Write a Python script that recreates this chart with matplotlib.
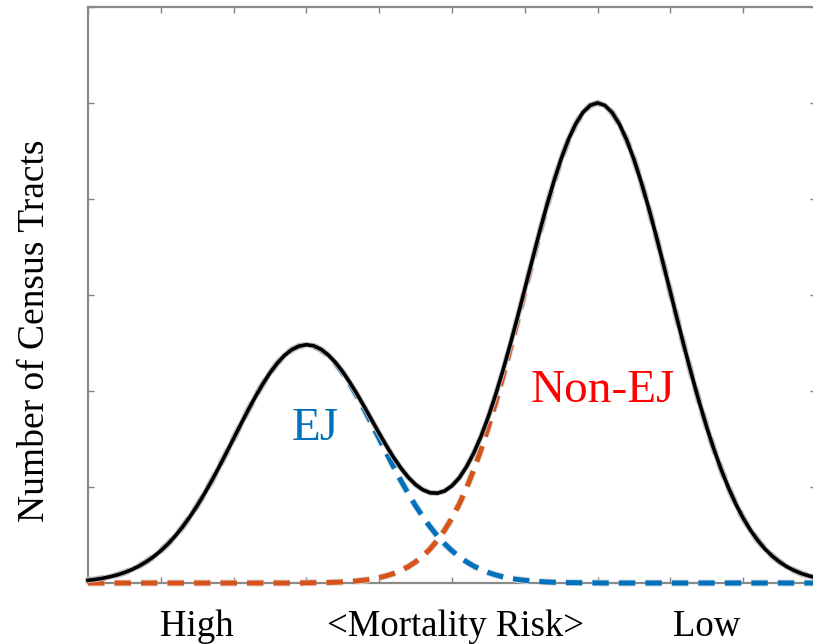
import numpy as np
import matplotlib
matplotlib.use('Agg')
import matplotlib.pyplot as plt
import matplotlib.patheffects as pe

# values, x step 0.1 on a 0..10 axis
x_vals = [round(0.1 * i, 1) for i in range(101)]

ej_vals = [0.028, 0.037, 0.049, 0.065, 0.084, 0.109, 0.139, 0.176, 0.221, 0.273,
           0.336, 0.408, 0.491, 0.585, 0.690, 0.805, 0.931, 1.065, 1.207, 1.354,
           1.504, 1.654, 1.801, 1.941, 2.071, 2.189, 2.289, 2.371, 2.431, 2.468,
           2.480,
           2.468, 2.431, 2.371, 2.289, 2.189, 2.071, 1.941, 1.801, 1.654, 1.504,
           1.354, 1.207, 1.065, 0.931, 0.805, 0.690, 0.585, 0.491, 0.408, 0.336,
           0.273, 0.221, 0.176, 0.139, 0.109, 0.084, 0.065, 0.049, 0.037, 0.028,
           0.020, 0.015, 0.011, 0.008, 0.005, 0.004, 0.003, 0.002, 0.001, 0.001,
           0.0, 0.0, 0.0, 0.0, 0.0, 0.0, 0.0, 0.0, 0.0, 0.0,
           0.0, 0.0, 0.0, 0.0, 0.0, 0.0, 0.0, 0.0, 0.0, 0.0,
           0.0, 0.0, 0.0, 0.0, 0.0, 0.0, 0.0, 0.0, 0.0, 0.0]

nonej_vals = [0.0, 0.0, 0.0, 0.0, 0.0, 0.0, 0.0, 0.0, 0.0, 0.0,
              0.0, 0.0, 0.0, 0.0, 0.0, 0.0, 0.0, 0.0, 0.0, 0.0,
              0.0, 0.0, 0.0, 0.0, 0.0, 0.0, 0.0, 0.0, 0.0, 0.0,
              0.002, 0.003, 0.004, 0.005, 0.008, 0.011, 0.015, 0.022, 0.030, 0.041,
              0.056, 0.075, 0.099, 0.131, 0.170, 0.220, 0.281, 0.355, 0.445, 0.551,
              0.677, 0.822, 0.990, 1.179, 1.390, 1.623, 1.877, 2.148, 2.434, 2.730,
              3.033, 3.335, 3.631, 3.914, 4.176, 4.413, 4.616, 4.780, 4.901, 4.975,
              5.000,
              4.975, 4.901, 4.780, 4.616, 4.413, 4.176, 3.914, 3.631, 3.335, 3.033,
              2.730, 2.434, 2.148, 1.877, 1.623, 1.390, 1.179, 0.990, 0.822, 0.677,
              0.551, 0.445, 0.355, 0.281, 0.220, 0.170, 0.131, 0.099, 0.075, 0.056]

bottom_labels = ['High', '<Mortality Risk>', 'Low']
bottom_pos = [1.5, 5.05, 8.5]

x = np.array(x_vals)
ej = np.array(ej_vals)
nonej = np.array(nonej_vals)
total = ej + nonej

serif = ['Liberation Serif', 'DejaVu Serif']
halo = [pe.Stroke(linewidth=5.0, foreground='#d9d9d9'), pe.Normal()]

fig = plt.figure(figsize=(8.13, 6.44), dpi=100)
ax = fig.add_axes([0.1082, 0.0947, 0.8954, 0.8944])

ax.plot(x, ej, color='#0072BD', lw=3.6, ls=(0, (3.3, 2.0)), zorder=3,
        clip_on=False, path_effects=halo)
ax.plot(x, nonej, color='#D95319', lw=3.6, ls=(0, (3.3, 2.0)), zorder=3,
        clip_on=False, path_effects=halo)
ax.plot(x, total, color='black', lw=2.6, zorder=4, clip_on=False,
        path_effects=[pe.Stroke(linewidth=4.0, foreground='#bfbfbf'), pe.Normal()])

ax.set_xlim(0, 10)
ax.set_ylim(0, 6)
ax.set_xticks(np.arange(0, 11, 1))
ax.set_yticks(np.arange(0, 7, 1))
ax.tick_params(direction='in', length=4, width=1, colors='#808080',
               top=True, right=True, labelbottom=False, labelleft=False)
for s in ax.spines.values():
    s.set_color('#8a8a8a')
    s.set_linewidth(1.6)

ax.text(3.12, 1.49, 'EJ', color='#0072BD', fontsize=34, family=serif,
        ha='center', va='baseline')
ax.text(7.07, 1.885, 'Non-EJ', color='#FF0000', fontsize=34, family=serif,
        ha='center', va='baseline')

for lab, p in zip(bottom_labels, bottom_pos):
    ax.text(p, -0.55, lab, fontsize=26.5, family=serif, ha='center',
            va='baseline', clip_on=False)

fig.text(35 / 813, 0.486, 'Number of Census Tracts', rotation=90, fontsize=27,
         family=serif, ha='center', va='center')

fig.savefig('out.png', dpi=100)
